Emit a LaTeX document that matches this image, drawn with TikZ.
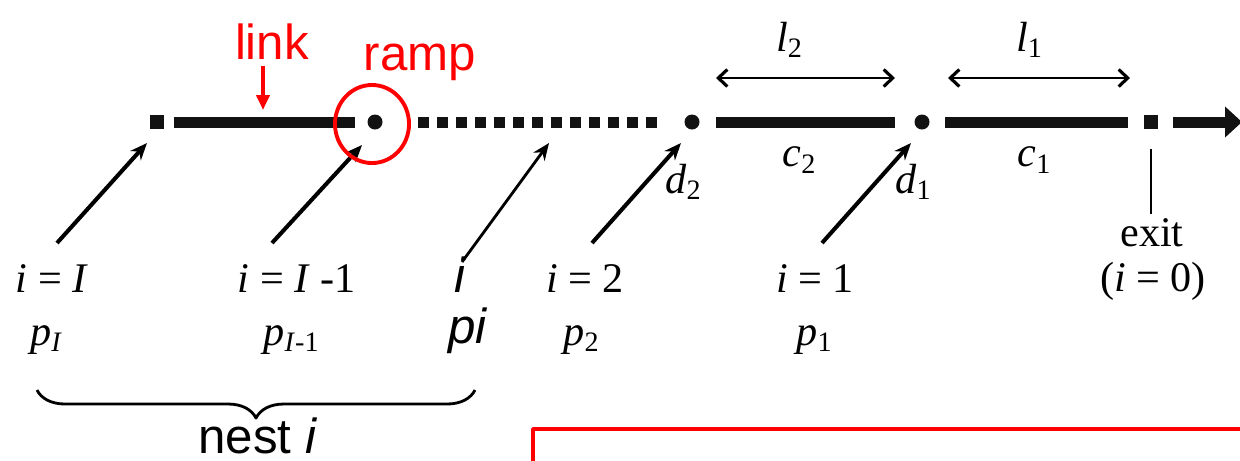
\documentclass[tikz,border=0pt]{standalone}
\usepackage{fontspec}
\setmainfont{Liberation Serif}
\setsansfont{Liberation Sans}
\usetikzlibrary{arrows.meta,decorations.pathreplacing}
\newcommand{\vi}[1]{\textit{#1}}
\newcommand{\sub}[1]{\textsubscript{#1}}
\tikzset{
  road/.style={line width=0.11cm,line cap=butt,color=black!93},
  sqr/.style={fill=black!93,minimum size=0.14cm,inner sep=0pt,outer sep=0pt},
  dot/.style={circle,fill=black!93,minimum size=0.15cm,inner sep=0pt,outer sep=0pt},
  feed/.style={-{Stealth[length=0.17cm,width=0.14cm]},line width=1.15pt},
  span/.style={{Straight Barb[length=0.09cm,width=0.17cm,line width=0.9pt]}-{Straight Barb[length=0.09cm,width=0.17cm,line width=0.9pt]},line width=0.7pt},
  note/.style={font=\fontsize{14}{16}\sffamily},
}
\begin{document}
\begin{tikzpicture}[x=0.01cm,y=-0.01cm,>=Stealth,line join=round,font=\fontsize{12}{14}\selectfont]
\useasboundingbox (0,0) rectangle (1240,460);
% stops on the road
\node[sqr] (sI) at (157,122) {};
\node[dot] (r1) at (375,122) {};
\node[dot] (d2) at (692,122) {};
\node[dot] (d1) at (922,122) {};
\node[sqr] (ex) at (1151,122) {};
\coordinate (out) at (1242,122);
% road segments
\draw[road,shorten <=0.1cm,shorten >=0.12cm] (sI) -- (r1);
\draw[road,dash pattern=on 0.11cm off 0.08cm,shorten <=0.355cm,shorten >=0.245cm] (r1) -- (d2);
\draw[road,shorten <=0.16cm,shorten >=0.2cm] (d2) -- (d1);
\draw[road,shorten <=0.155cm,shorten >=0.16cm] (d1) -- (ex);
\draw[road,shorten <=0.15cm,-{Triangle[length=0.17cm,width=0.3cm]}] (ex) -- (out);
% lengths
\coordinate (a2) at (716,78); \coordinate (b2) at (895,78);
\coordinate (a1) at (948,78); \coordinate (b1) at (1130,78);
\draw[span] (a2) -- (b2);
\draw[span] (a1) -- (b1);
\node (l2) at (790,40) {\vi{l}\sub{2}};
\node (l1) at (1030,40) {\vi{l}\sub{1}};
\node (c2) at (800,160) {\vi{c}\sub{2}};
\node (c1) at (1035,160) {\vi{c}\sub{1}};
\node (dd2) at (684,182) {\vi{d}\sub{2}};
\node (dd1) at (914,182) {\vi{d}\sub{1}};
% on-ramp arrows
\coordinate (tI) at (57,243);   \coordinate (hI) at (147,143);
\coordinate (tJ) at (272,243);  \coordinate (hJ) at (362,145);
\coordinate (ti) at (462,262);  \coordinate (hi) at (549,143);
\coordinate (t2) at (592,243);  \coordinate (h2) at (681,143);
\coordinate (t1) at (822,243);  \coordinate (h1) at (911,143);
\draw[feed] (tI) -- (hI);
\draw[feed] (tJ) -- (hJ);
\draw[feed,line width=0.8pt] (ti) -- (hi);
\draw[feed] (t2) -- (h2);
\draw[feed] (t1) -- (h1);
% labels below
\node (nI) at (52,279) {\vi{i} = \vi{I}};
\node (nJ) at (297,279) {\vi{i} = \vi{I} -1};
\node[note] (ni) at (461,275) {\vi{i}};
\node (n2) at (585,279) {\vi{i} = 2};
\node (n1) at (815,279) {\vi{i} = 1};
\node (exit) at (1152,233) {exit};
\node (n0) at (1153,281) {(\vi{i} = 0)};
\node (pI) at (47,340) {\vi{p}\sub{\vi{I}}};
\node (pJ) at (292,340) {\vi{p}\sub{\vi{I}-1}};
\node[note] (pi) at (468,331) {\vi{pi}};
\node (p2) at (582,340) {\vi{p}\sub{2}};
\node (p1) at (815,340) {\vi{p}\sub{1}};
\draw[line width=0.8pt] ([yshift=-0.2cm]ex.south) -- ++(0,65);
% nest brace
\draw[line width=0.8pt,decorate,decoration={brace,mirror,amplitude=0.28cm}] (37,390) -- (475,390);
\node[note,inner sep=0pt] (nest) at (258,436) {nest \vi{i}};
% red notes
\node[note,red] (link) at (272,42) {link};
\coordinate (lk0) at (263,66);
\coordinate (lk) at (263,110);
\draw[red,line width=1.3pt,-{Triangle[length=0.15cm,width=0.13cm]}] (lk0) -- (lk);
\node[note,red] (ramp) at (420,62) {ramp};
\draw[red,line width=1.1pt] (372,124) ellipse [x radius=0.37cm,y radius=0.39cm];
\draw[red,line width=1pt] (533,429) rectangle (1260,480);
\end{tikzpicture}
\end{document}
